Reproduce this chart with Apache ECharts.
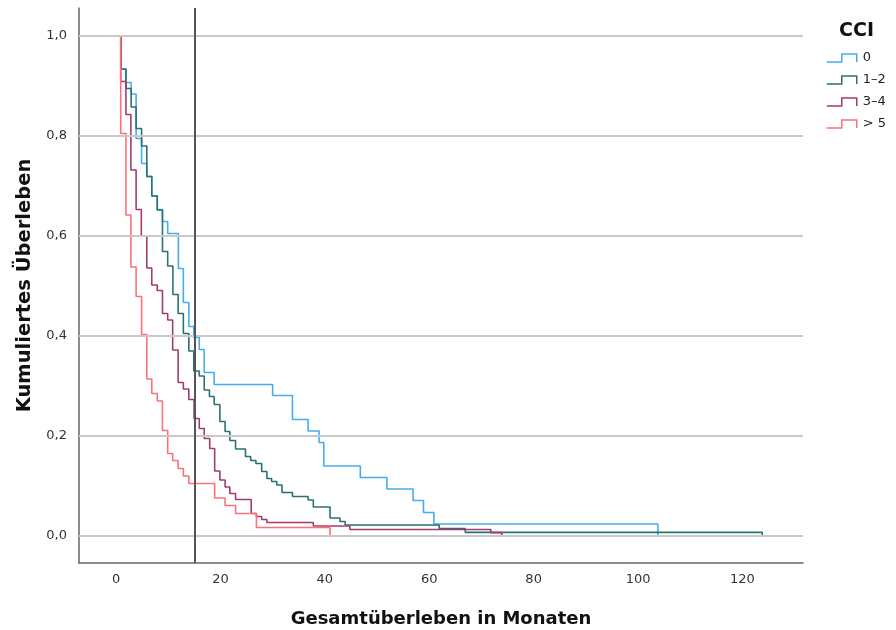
<!DOCTYPE html>
<html>
<head>
<meta charset="utf-8">
<script src="https://cdn.jsdelivr.net/npm/echarts@6/dist/echarts.min.js"></script>
<style>
  html, body { margin: 0; padding: 0; background: #fff; }
  #chart { width: 896px; height: 630px; }
</style>
</head>
<body>
<div id="chart"></div>
<script>
// Kaplan-Meier Kurven nach CCI-Gruppe (Zeit in Monaten, kumuliertes Ueberleben)
const groupNames = ['0', '1–2', '3–4', '> 5'];
const groupColors = ['#45acf2', '#2a7270', '#a33c6e', '#fc7078'];

const cci0Times = [0, 1.0, 1.9, 2.9, 3.85, 4.9, 5.9, 6.85, 7.9, 8.9, 9.9, 11.95, 12.9, 13.95, 14.9, 15.95, 16.9, 18.8, 30.0, 33.8, 36.8, 38.9, 39.8, 46.8, 51.9, 56.9, 58.9, 60.9, 103.8];
const cci0Surv  = [1, 0.934, 0.907, 0.884, 0.795, 0.745, 0.719, 0.68, 0.653, 0.629, 0.605, 0.535, 0.467, 0.419, 0.397, 0.373, 0.327, 0.303, 0.281, 0.233, 0.21, 0.187, 0.14, 0.117, 0.094, 0.071, 0.047, 0.024, 0];

const cci12Times = [0, 1.0, 1.9, 2.9, 3.85, 4.9, 5.9, 6.85, 7.9, 8.9, 9.9, 10.9, 11.9, 12.9, 13.95, 14.9, 15.95, 16.9, 17.9, 18.8, 19.9, 20.9, 21.8, 22.9, 24.8, 25.8, 26.8, 27.9, 28.9, 29.8, 30.8, 31.8, 33.8, 36.8, 37.8, 41.0, 42.9, 43.9, 61.9, 66.9, 123.8];
const cci12Surv  = [1, 0.934, 0.895, 0.858, 0.815, 0.78, 0.719, 0.68, 0.652, 0.569, 0.54, 0.483, 0.445, 0.405, 0.37, 0.33, 0.32, 0.292, 0.279, 0.263, 0.229, 0.209, 0.191, 0.174, 0.159, 0.151, 0.145, 0.129, 0.115, 0.109, 0.102, 0.087, 0.079, 0.072, 0.058, 0.036, 0.029, 0.022, 0.015, 0.0073, 0];

const cci34Times = [0, 0.9, 1.9, 2.85, 3.85, 4.85, 5.9, 6.85, 7.9, 8.9, 9.9, 10.85, 11.9, 12.9, 13.95, 14.95, 15.95, 16.9, 17.95, 18.9, 19.9, 20.9, 21.8, 22.9, 25.9, 26.9, 27.9, 28.9, 37.8, 44.8, 71.8, 73.9];
const cci34Surv  = [1, 0.909, 0.843, 0.732, 0.653, 0.6, 0.536, 0.502, 0.491, 0.445, 0.432, 0.372, 0.307, 0.294, 0.273, 0.235, 0.215, 0.195, 0.175, 0.13, 0.112, 0.098, 0.085, 0.073, 0.045, 0.039, 0.033, 0.027, 0.02, 0.013, 0.0067, 0];

const cci5Times = [0, 0.9, 1.9, 2.85, 3.85, 4.9, 5.9, 6.85, 7.9, 8.9, 9.9, 10.85, 11.9, 12.9, 13.95, 18.9, 20.9, 22.9, 26.9, 41.0];
const cci5Surv  = [1, 0.805, 0.642, 0.538, 0.479, 0.403, 0.314, 0.285, 0.27, 0.211, 0.165, 0.151, 0.135, 0.12, 0.105, 0.076, 0.061, 0.045, 0.017, 0];

const gridValues = [0, 0.2, 0.4, 0.6, 0.8, 1.0];
const refMonth = 15;

const allTimes = [cci0Times, cci12Times, cci34Times, cci5Times];
const allSurv = [cci0Surv, cci12Surv, cci34Surv, cci5Surv];

const chart = echarts.init(document.getElementById('chart'));

const curveSeries = groupNames.map(function (name, i) {
  return {
    name: name,
    type: 'line',
    step: 'end',
    symbol: 'none',
    z: 3,
    lineStyle: { color: groupColors[i], width: 1.6 },
    itemStyle: { color: groupColors[i] },
    data: allTimes[i].map(function (t, k) { return [t, allSurv[i][k]]; })
  };
});

const option = {
  animation: false,
  backgroundColor: '#fff',
  grid: { left: 79, right: 93, top: 8, bottom: 67, outerBoundsMode: 'none', containLabel: false },
  title: {
    text: 'CCI',
    left: 834,
    top: 17,
    textStyle: { fontFamily: 'DejaVu Sans', fontWeight: 'bold', fontSize: 19, color: '#111' }
  },
  legend: {
    orient: 'vertical',
    left: 821,
    top: 45,
    itemWidth: 30,
    itemHeight: 8,
    itemGap: 6,
    icon: 'path://M0,8 L15,8 L15,0 L30,0 L30,8',
    textStyle: { fontFamily: 'DejaVu Sans', fontSize: 13, color: '#222', lineHeight: 16, padding: [0, 0, 0, 1] },
    data: groupNames.map(function (n, i) {
      return { name: n, itemStyle: { color: 'rgba(0,0,0,0)', borderColor: groupColors[i], borderWidth: 1.5 } };
    })
  },
  xAxis: {
    type: 'value',
    min: -7.09,
    max: 131.6,
    splitNumber: 7,
    name: 'Gesamtüberleben in Monaten',
    nameLocation: 'middle',
    nameGap: 47,
    nameTextStyle: { fontFamily: 'DejaVu Sans', fontWeight: 'bold', fontSize: 18, color: '#111' },
    axisLine: { onZero: false, lineStyle: { color: '#666', width: 1.5 } },
    axisTick: { show: false },
    splitLine: { show: false },
    axisLabel: {
      showMinLabel: false, showMaxLabel: false,
      margin: 10,
      fontFamily: 'DejaVu Sans', fontSize: 13, color: '#333',
      formatter: function (v) { return Math.abs(v % 20) < 1e-6 && v >= 0 ? String(v) : ''; }
    }
  },
  yAxis: {
    type: 'value',
    min: -0.054,
    max: 1.056,
    splitNumber: 5,
    name: 'Kumuliertes Überleben',
    nameLocation: 'middle',
    nameGap: 40,
    nameTextStyle: { fontFamily: 'DejaVu Sans', fontWeight: 'bold', fontSize: 19.5, color: '#111' },
    axisLine: { show: true, onZero: false, lineStyle: { color: '#666', width: 1.5 } },
    axisTick: { show: false },
    splitLine: { show: false },
    axisLabel: {
      showMinLabel: false, showMaxLabel: false,
      margin: 12,
      fontFamily: 'DejaVu Sans', fontSize: 13, color: '#333',
      formatter: function (v) {
        const k = Math.round(v / 0.2);
        return (Math.abs(v - k * 0.2) < 1e-6 && v > -1e-6) ? v.toFixed(1).replace('.', ',') : '';
      }
    }
  },
  series: [
    {
      name: 'grid',
      type: 'line',
      data: [],
      z: 1,
      silent: true,
      markLine: {
        silent: true,
        symbol: 'none',
        label: { show: false },
        lineStyle: { color: '#c9c9c9', width: 2, type: 'solid' },
        data: gridValues.map(function (v) { return { yAxis: v }; })
      }
    }
  ].concat(curveSeries).concat([
    {
      name: 'ref',
      type: 'line',
      data: [],
      z: 5,
      silent: true,
      markLine: {
        silent: true,
        symbol: 'none',
        label: { show: false },
        lineStyle: { color: '#555', width: 2, type: 'solid' },
        data: [{ xAxis: refMonth }]
      }
    }
  ])
};

chart.setOption(option);
</script>
</body>
</html>
